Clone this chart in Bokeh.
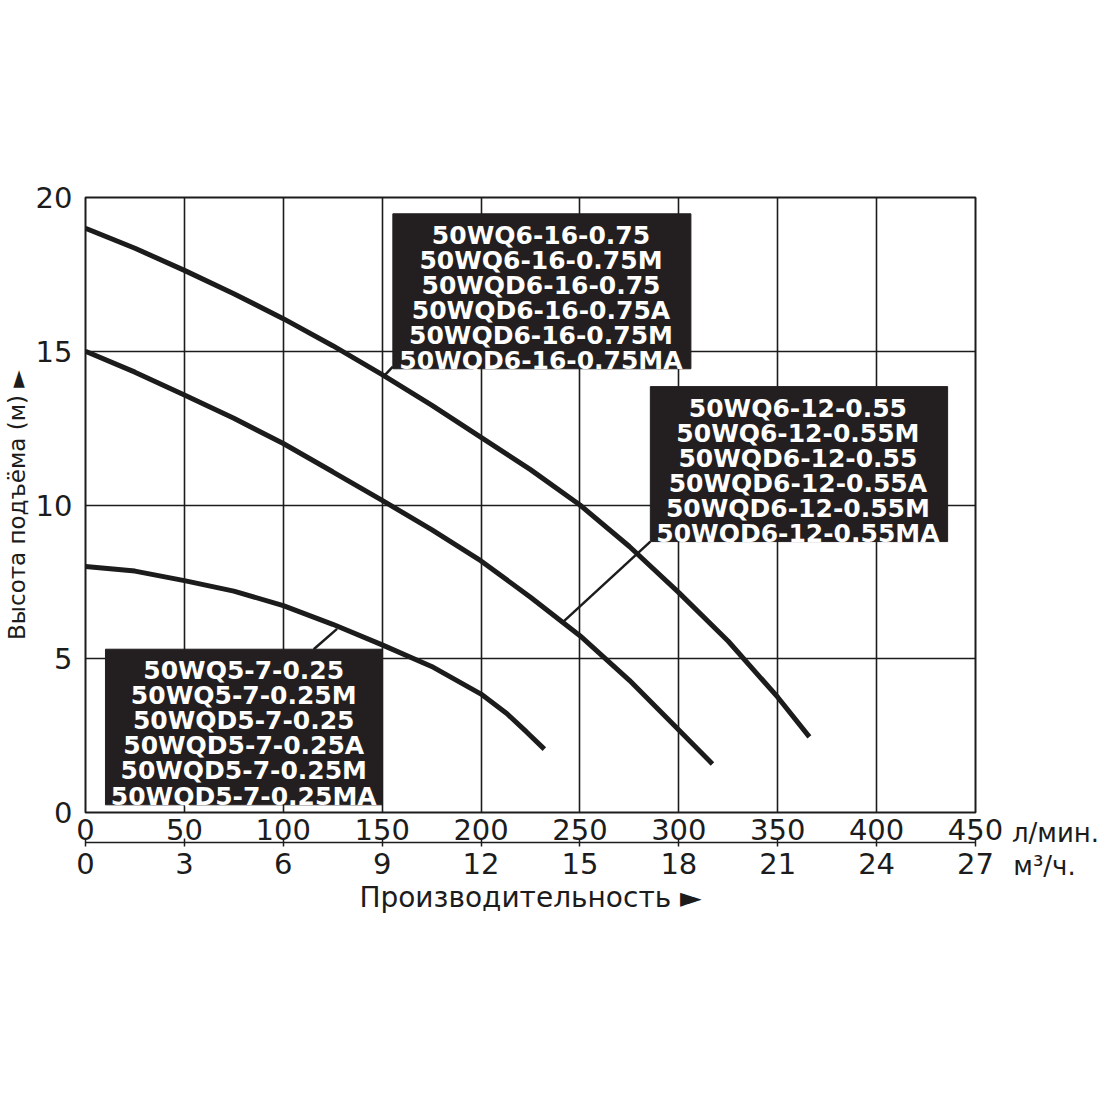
from bokeh.plotting import figure
from bokeh.layouts import row
from bokeh.models import Range1d, LinearAxis, FixedTicker
from bokeh.core.properties import value
from bokeh.embed import file_html
from bokeh.resources import INLINE

# ---------------- data ----------------
flow_075 = [0, 25, 50, 75, 100, 125, 150, 175, 200, 225, 250, 275, 300, 325, 350, 366]
head_075 = [19.0, 18.35, 17.63, 16.87, 16.06, 15.18, 14.24, 13.25, 12.2, 11.15, 10.0, 8.65, 7.15, 5.57, 3.75, 2.46]

flow_055 = [0, 25, 50, 75, 100, 125, 150, 175, 200, 225, 250, 275, 300, 317]
head_055 = [15.0, 14.32, 13.58, 12.82, 12.0, 11.08, 10.15, 9.2, 8.18, 7.0, 5.75, 4.3, 2.68, 1.58]

flow_025 = [0, 25, 50, 75, 100, 125, 150, 175, 200, 213, 223, 232]
head_025 = [8.0, 7.85, 7.54, 7.2, 6.73, 6.12, 5.45, 4.75, 3.85, 3.22, 2.62, 2.06]

ticks_lmin = [0, 50, 100, 150, 200, 250, 300, 350, 400, 450]
ticks_m3h = [0, 3, 6, 9, 12, 15, 18, 21, 24, 27]
ticks_head = [0, 5, 10, 15, 20]

labels_075 = ["50WQ6-16-0.75", "50WQ6-16-0.75M", "50WQD6-16-0.75",
              "50WQD6-16-0.75A", "50WQD6-16-0.75M", "50WQD6-16-0.75MA"]
labels_055 = ["50WQ6-12-0.55", "50WQ6-12-0.55M", "50WQD6-12-0.55",
              "50WQD6-12-0.55A", "50WQD6-12-0.55M", "50WQD6-12-0.55MA"]
labels_025 = ["50WQ5-7-0.25", "50WQ5-7-0.25M", "50WQD5-7-0.25",
              "50WQD5-7-0.25A", "50WQD5-7-0.25M", "50WQD5-7-0.25MA"]

x_title = "Производительность ►"
y_title = "Высота подъёма (м) ►"
unit_lmin = "л/мин."
unit_m3h = "м³/ч."

# ---------------- layout / style constants ----------------
INK = "#1c1c1c"
BOX = "#231f20"
FONT_NAME = "DejaVu Sans"
FONT = value(FONT_NAME)
LINE_STEP = 0.815  # data units between label lines

TOP, LEFT, BOTTOM = 197, 85, 125
FRAME_W, FRAME_H = 890, 615
MAIN_RIGHT = 30
SIDE_W = 95

# callout boxes: (x0, x1, bottom, top, text centre x, first baseline)
box_075 = (155.4, 306.1, 14.43, 19.47, 230.3, 18.77)
box_055 = (285.6, 435.9, 8.81, 13.85, 360.2, 13.15)
box_025 = (10.1, 150.0, 0.25, 5.31, 80.0, 4.61)
# leader lines: (x_start, y_start, x_end, y_end)
lead_075 = (155.4, 14.5, 151.0, 14.2)
lead_055 = (285.6, 8.81, 241.5, 6.2)
lead_025 = (115.4, 5.31, 127.2, 5.97)


def style_labels(ax, size="29px"):
    ax.major_label_text_font = FONT_NAME
    ax.major_label_text_font_size = size
    ax.major_label_text_color = INK
    ax.minor_tick_line_color = None


p = figure(frame_width=FRAME_W, frame_height=FRAME_H,
           x_range=Range1d(0, 450), y_range=Range1d(0, 20),
           output_backend="svg", toolbar_location=None,
           min_border_left=LEFT, min_border_right=MAIN_RIGHT,
           min_border_top=TOP, min_border_bottom=BOTTOM,
           background_fill_color="white", border_fill_color="white",
           outline_line_color=INK, outline_line_width=2)

p.extra_x_ranges = {"m3h": Range1d(0, 27)}

# upper x axis labels (l/min)
ax1 = p.below[0]
ax1.ticker = FixedTicker(ticks=ticks_lmin)
ax1.axis_line_color = None
ax1.major_tick_line_color = None
ax1.major_tick_in = 0
ax1.major_tick_out = 0
ax1.major_label_standoff = 6
style_labels(ax1)

# lower x axis (m3/h) with line and ticks
ax2 = LinearAxis(x_range_name="m3h", ticker=FixedTicker(ticks=ticks_m3h))
ax2.axis_line_color = INK
ax2.axis_line_width = 1.5
ax2.major_tick_line_color = INK
ax2.major_tick_line_width = 1.5
ax2.major_tick_in = 4
ax2.major_tick_out = 4
ax2.major_label_standoff = 6
style_labels(ax2)
ax2.axis_label = x_title
ax2.axis_label_text_font = FONT_NAME
ax2.axis_label_text_font_size = "28px"
ax2.axis_label_text_font_style = "normal"
ax2.axis_label_text_color = INK
ax2.axis_label_standoff = 4
p.add_layout(ax2, "below")

# y axis
ya = p.left[0]
ya.ticker = FixedTicker(ticks=ticks_head)
ya.axis_line_color = None
ya.major_tick_line_color = None
ya.major_tick_in = 0
ya.major_tick_out = 0
ya.major_label_standoff = 13
style_labels(ya)
ya.axis_label = y_title
ya.axis_label_text_font = FONT_NAME
ya.axis_label_text_font_size = "23px"
ya.axis_label_text_font_style = "normal"
ya.axis_label_text_color = INK
ya.axis_label_standoff = 3

# grid
p.xgrid.ticker = FixedTicker(ticks=ticks_lmin)
p.ygrid.ticker = FixedTicker(ticks=ticks_head)
p.grid.grid_line_color = INK
p.grid.grid_line_width = 1.6
p.grid.grid_line_alpha = 1.0

# curves
for fx, hy in ((flow_075, head_075), (flow_055, head_055), (flow_025, head_025)):
    p.line(fx, hy, line_color=INK, line_width=5)

# callouts
for box, lead, labels in ((box_075, lead_075, labels_075),
                          (box_055, lead_055, labels_055),
                          (box_025, lead_025, labels_025)):
    x0, x1, b, t, cx, base0 = box
    p.line([lead[0], lead[2]], [lead[1], lead[3]], line_color=INK, line_width=2.5)
    p.quad(left=[x0], right=[x1], bottom=[b], top=[t], fill_color=BOX, line_color=BOX)
    ys = [base0 - i * LINE_STEP for i in range(len(labels))]
    p.text(x=[cx] * len(labels), y=ys, text=labels, text_color="white",
           text_font=FONT, text_font_style="bold", text_font_size="25px",
           text_align="center", text_baseline="alphabetic")

# narrow side panel on the right: its two axis rows carry the unit captions
side = figure(frame_width=SIDE_W, frame_height=FRAME_H,
              x_range=Range1d(0, SIDE_W), y_range=Range1d(0, 20),
              min_border_left=0, min_border_right=0,
              min_border_top=TOP, min_border_bottom=BOTTOM,
              y_axis_location=None, output_backend="svg", toolbar_location=None,
              outline_line_color=None, background_fill_color="white",
              border_fill_color="white")
side.grid.visible = False

sx1 = side.below[0]
sx1.ticker = FixedTicker(ticks=[50])
sx1.major_label_overrides = {50: unit_lmin}
sx1.axis_line_color = None
sx1.major_tick_line_color = None
sx1.major_tick_in = 0
sx1.major_tick_out = 0
sx1.major_label_standoff = 5
style_labels(sx1, "26px")

sx2 = LinearAxis(ticker=FixedTicker(ticks=[39]))
sx2.major_label_overrides = {39: unit_m3h}
sx2.axis_line_color = None
sx2.major_tick_line_color = None
sx2.major_tick_in = 0
sx2.major_tick_out = 0
sx2.major_label_standoff = 0
style_labels(sx2, "26px")
side.add_layout(sx2, "below")

layout = row(p, side)
open("out.html", "w").write(file_html(layout, INLINE))
